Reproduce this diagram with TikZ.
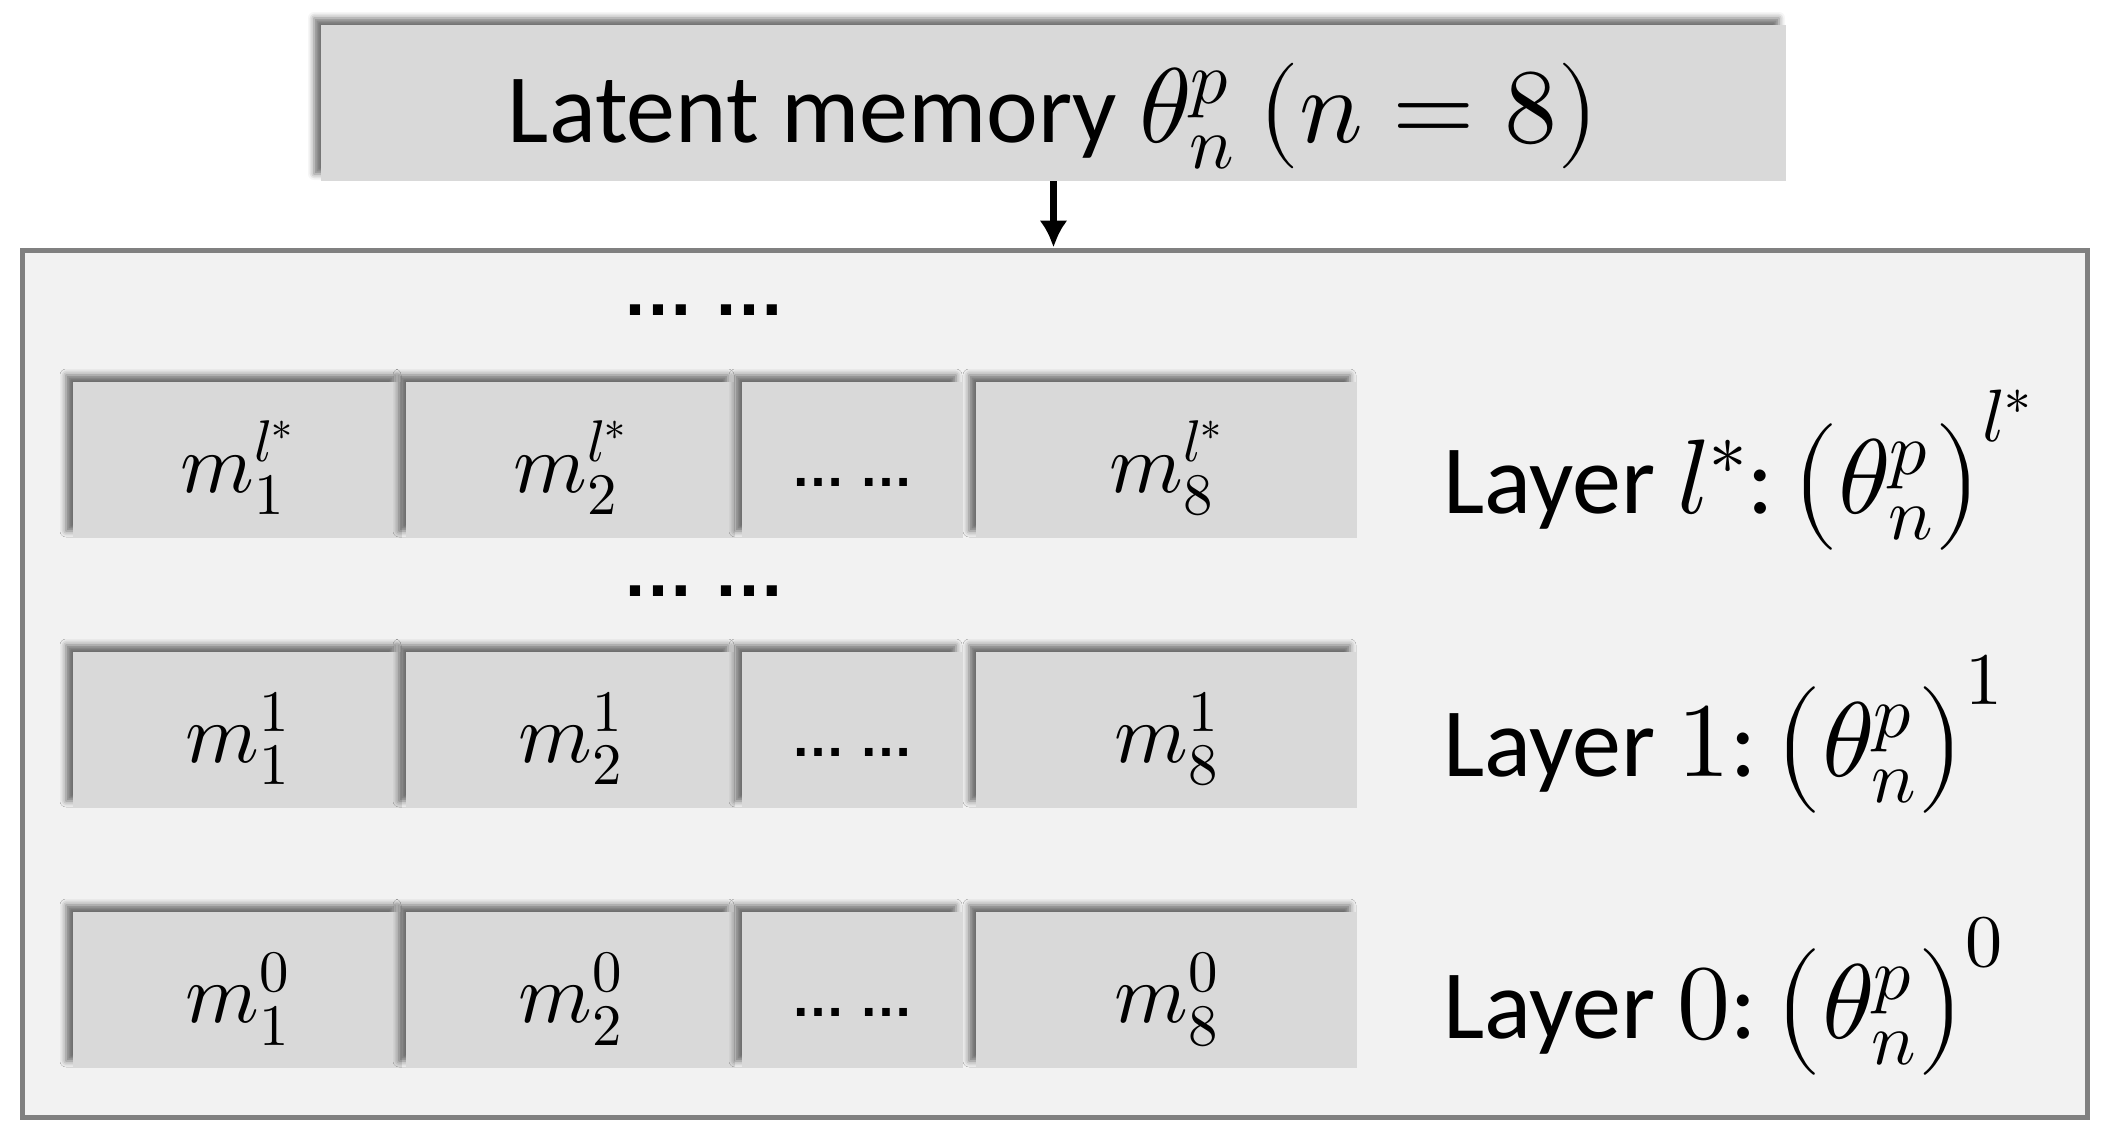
\documentclass[tikz,border=0pt]{standalone}
\usepackage{fontspec}
\usepackage{unicode-math}
\setmainfont{Carlito}
\setmathfont{latinmodern-math.otf}
\newfontfamily\dotsfont{Liberation Sans}
\usetikzlibrary{shadows.blur,arrows.meta}
\definecolor{cellgray}{HTML}{D9D9D9}
\definecolor{boxbg}{HTML}{F2F2F2}
\definecolor{bordergray}{HTML}{808080}
\newcommand{\bigmath}[1]{{\fontsize{53}{60}\selectfont #1}}
\tikzset{
  softshadow/.style={blur shadow={shadow xshift=-3.5pt, shadow yshift=3.5pt, shadow blur radius=3pt, shadow opacity=55}},
  cellbox/.style={rectangle, fill=cellgray, inner sep=0pt, minimum height=78pt,
    text height=40pt, text depth=8pt, font=\fontsize{42}{50}\selectfont, softshadow},
  layerlabel/.style={anchor=base west, inner sep=0pt, font=\fontsize{49}{60}\selectfont},
  dotsrow/.style={anchor=base, inner sep=0pt, font=\fontsize{36}{44}\selectfont\dotsfont\bfseries},
  celldots/.style={text height=34pt, text depth=8pt, font=\fontsize{27}{33}\selectfont\dotsfont\bfseries},
  wideA/.style={minimum width=164.5pt},
  wideB/.style={minimum width=110.5pt},
  wideC/.style={minimum width=190.5pt},
}
\begin{document}
\begin{tikzpicture}[x=0.5pt,y=-0.5pt]
\useasboundingbox (0,0) rectangle (2105,1146);
% outer container
\node[draw=bordergray, line width=2.5pt, fill=boxbg, inner sep=0pt,
      minimum width=1032.25pt, minimum height=433.5pt] (mem) at (1054.75,683.5) {};
% top box
\node[fill=cellgray, inner sep=0pt, minimum width=732.5pt, minimum height=78pt,
      text height=50pt, text depth=11pt, font=\fontsize{49}{58}\selectfont, softshadow]
      (top) at (1053.5,103) {Latent memory \bigmath{$\theta_n^p$ $(n=8)$}};
\draw[line width=3.5pt, -{Latex[length=13.5pt,width=14pt]}] (top.south) -- (top.south |- mem.north);
% dots rows
\node[dotsrow] (dotsA) at (704,315) {… …};
\node[dotsrow] (dotsB) at (704,596) {… …};
% row l*
\node[cellbox, wideA] (r1c1) at (237.5,460) {$m_1^{l^*}$};
\node[cellbox, wideA] (r1c2) at (570.5,460) {$m_2^{l^*}$};
\node[cellbox, wideB, celldots] (r1c3) at (852.5,460) {… …};
\node[cellbox, wideC] (r1c4) at (1166.5,460) {$m_8^{l^*}$};
% row 1
\node[cellbox, wideA] (r2c1) at (237.5,730) {$m_1^{1}$};
\node[cellbox, wideA] (r2c2) at (570.5,730) {$m_2^{1}$};
\node[cellbox, wideB, celldots] (r2c3) at (852.5,730) {… …};
\node[cellbox, wideC] (r2c4) at (1166.5,730) {$m_8^{1}$};
% row 0
\node[cellbox, wideA] (r3c1) at (237.5,990) {$m_1^{0}$};
\node[cellbox, wideA] (r3c2) at (570.5,990) {$m_2^{0}$};
\node[cellbox, wideB, celldots] (r3c3) at (852.5,990) {… …};
\node[cellbox, wideC] (r3c4) at (1166.5,990) {$m_8^{0}$};
% layer labels
\node[layerlabel] (lblA) at (1443,513) {Layer \bigmath{$l^*$}:\,\bigmath{$\bigl(\theta_n^p\bigr)^{l^*}$}};
\node[layerlabel] (lblB) at (1443,776) {Layer \bigmath{$1$}:\,\bigmath{$\bigl(\theta_n^p\bigr)^{1}$}};
\node[layerlabel] (lblC) at (1443,1038) {Layer \bigmath{$0$}:\,\bigmath{$\bigl(\theta_n^p\bigr)^{0}$}};
\end{tikzpicture}
\end{document}
